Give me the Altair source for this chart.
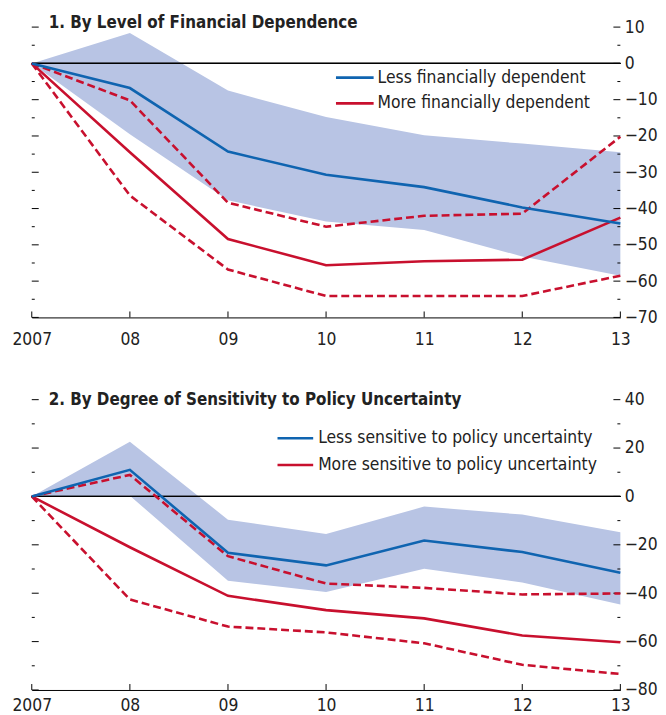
import altair as alt
import pandas as pd

FONT = "DejaVu Sans Condensed, Liberation Sans Narrow, sans-serif"
BLUE = "#0f64b0"
RED = "#c8102e"
BAND = "#b8c4e4"

year_labels = ["2007", "08", "09", "10", "11", "12", "13"]

# Panel 1: By Level of Financial Dependence
p1_title = "1. By Level of Financial Dependence"
p1_legend = ["Less financially dependent", "More financially dependent"]
p1_less = [0, -6.8, -24.3, -30.7, -34.1, -39.7, -44.1]
p1_band_hi = [0, 8.4, -7.5, -14.8, -19.8, -22.1, -24.5]
p1_band_lo = [0, -19.5, -37.7, -43.6, -45.9, -53.2, -58.5]
p1_more = [0, -24.5, -48.4, -55.6, -54.5, -54.1, -42.5]
p1_more_hi = [0, -10.2, -38.4, -45.0, -42.0, -41.4, -20.2]
p1_more_lo = [0, -36.4, -56.8, -64.1, -64.1, -64.1, -58.5]
p1_domain = [-70, 10]
p1_major = [10, 0, -10, -20, -30, -40, -50, -60, -70]
p1_minor = [5, -5, -15, -25, -35, -45, -55, -65]

# Panel 2: By Degree of Sensitivity to Policy Uncertainty
p2_title = "2. By Degree of Sensitivity to Policy Uncertainty"
p2_legend = ["Less sensitive to policy uncertainty", "More sensitive to policy uncertainty"]
p2_less = [0, 11.0, -23.3, -28.5, -18.2, -23.0, -31.5]
p2_band_hi = [0, 22.6, -9.6, -15.5, -4.2, -7.5, -14.8]
p2_band_lo = [0, 0.3, -34.9, -39.5, -29.9, -35.6, -44.7]
p2_more = [0, -21.0, -41.1, -47.0, -50.4, -57.5, -60.3]
p2_more_hi = [0, 8.9, -24.7, -36.0, -37.8, -40.5, -40.1]
p2_more_lo = [0, -42.6, -53.8, -56.2, -60.7, -69.6, -73.4]
p2_domain = [-80, 40]
p2_major = [40, 20, 0, -20, -40, -60, -80]
p2_minor = [30, 10, -10, -30, -50, -70]

W = 594
FS = 17.5


def panel(title, legend, less, hi, lo, more, more_hi, more_lo, domain, major, minor,
          H, leg_x0, leg_x1, leg_tx, leg_y, title_y, xpad):
    df = pd.DataFrame({
        "label": year_labels, "less": less, "hi": hi, "lo": lo,
        "more": more, "more_hi": more_hi, "more_lo": more_lo,
    })
    xenc = alt.X("label:O", sort=year_labels,
                 scale=alt.Scale(type="point", padding=0),
                 axis=alt.Axis(ticks=False, domain=True, domainColor="#000000",
                               domainWidth=1, labelAngle=0, labelFontSize=FS,
                               labelFont=FONT, labelColor="#222222",
                               labelPadding=xpad, grid=False, title=None))
    yscale = alt.Scale(domain=domain, nice=False, zero=False)
    yaxis = alt.Axis(orient="right", values=major, ticks=False, domain=False,
                     grid=False, labelFontSize=FS, labelFont=FONT,
                     labelColor="#222222", labelPadding=4, title=None)

    def Y(f):
        return alt.Y(f, scale=yscale, axis=yaxis)

    base = alt.Chart(df)
    band = base.mark_area(color=BAND, opacity=1).encode(
        x=xenc, y=Y("lo:Q"), y2="hi:Q")
    zero = alt.Chart(df).mark_rule(color="#000000", strokeWidth=1).encode(
        y=alt.Y(datum=0, scale=yscale, axis=yaxis), x=alt.value(0), x2=alt.value(W))

    tmaj = pd.DataFrame({"v": major})
    tmin = pd.DataFrame({"v": minor})
    ticks = []
    for tdf, ln in ((tmaj, 7), (tmin, 3)):
        ticks.append(alt.Chart(tdf).mark_rule(color="#000000", strokeWidth=1).encode(
            y=Y("v:Q"), x=alt.value(0), x2=alt.value(ln)))
        ticks.append(alt.Chart(tdf).mark_rule(color="#000000", strokeWidth=1).encode(
            y=Y("v:Q"), x=alt.value(W - ln), x2=alt.value(W)))
    xticks = base.mark_rule(color="#000000", strokeWidth=1).encode(
        x=xenc, y=alt.value(H - 6), y2=alt.value(H))

    def line(field, color, dash=None):
        kw = dict(color=color, strokeWidth=2.6)
        if dash:
            kw["strokeDash"] = dash
        return base.mark_line(**kw).encode(x=xenc, y=Y(field + ":Q"))

    red_hi = line("more_hi", RED, [8, 4])
    red_lo = line("more_lo", RED, [8, 4])
    red = line("more", RED)
    blue = line("less", BLUE)

    ttl = alt.Chart(pd.DataFrame({"t": [title]})).mark_text(
        font=FONT, fontSize=17, fontWeight="bold", align="left", baseline="middle",
        color="#222222").encode(text="t:N", x=alt.value(17), y=alt.value(title_y))

    leg = []
    for i, (lab, col) in enumerate(zip(legend, [BLUE, RED])):
        yy = leg_y[i]
        leg.append(alt.Chart(pd.DataFrame({"t": [lab]})).mark_rule(
            color=col, strokeWidth=2.6).encode(
            x=alt.value(leg_x0), x2=alt.value(leg_x1), y=alt.value(yy)))
        leg.append(alt.Chart(pd.DataFrame({"t": [lab]})).mark_text(
            font=FONT, fontSize=FS, align="left", baseline="middle",
            color="#222222").encode(text="t:N", x=alt.value(leg_tx), y=alt.value(yy)))

    return alt.layer(band, zero, *ticks, xticks, red_hi, red_lo, red, blue, ttl, *leg).properties(
        width=W, height=H)


c1 = panel(p1_title, p1_legend, p1_less, p1_band_hi, p1_band_lo, p1_more, p1_more_hi,
           p1_more_lo, p1_domain, p1_major, p1_minor, 293, 307, 345, 349, [51, 77], -4, 13)
c2 = panel(p2_title, p2_legend, p2_less, p2_band_hi, p2_band_lo, p2_more, p2_more_hi,
           p2_more_lo, p2_domain, p2_major, p2_minor, 293, 248, 284, 289, [39, 66], 0, 7)

chart = alt.vconcat(c1, c2, spacing=43).properties(
    padding={"left": 3, "top": 3, "right": 0, "bottom": 0}
).configure_view(stroke=None).configure_concat(spacing=43)

chart.save("out.html", embed_options={"renderer": "svg", "actions": False})
